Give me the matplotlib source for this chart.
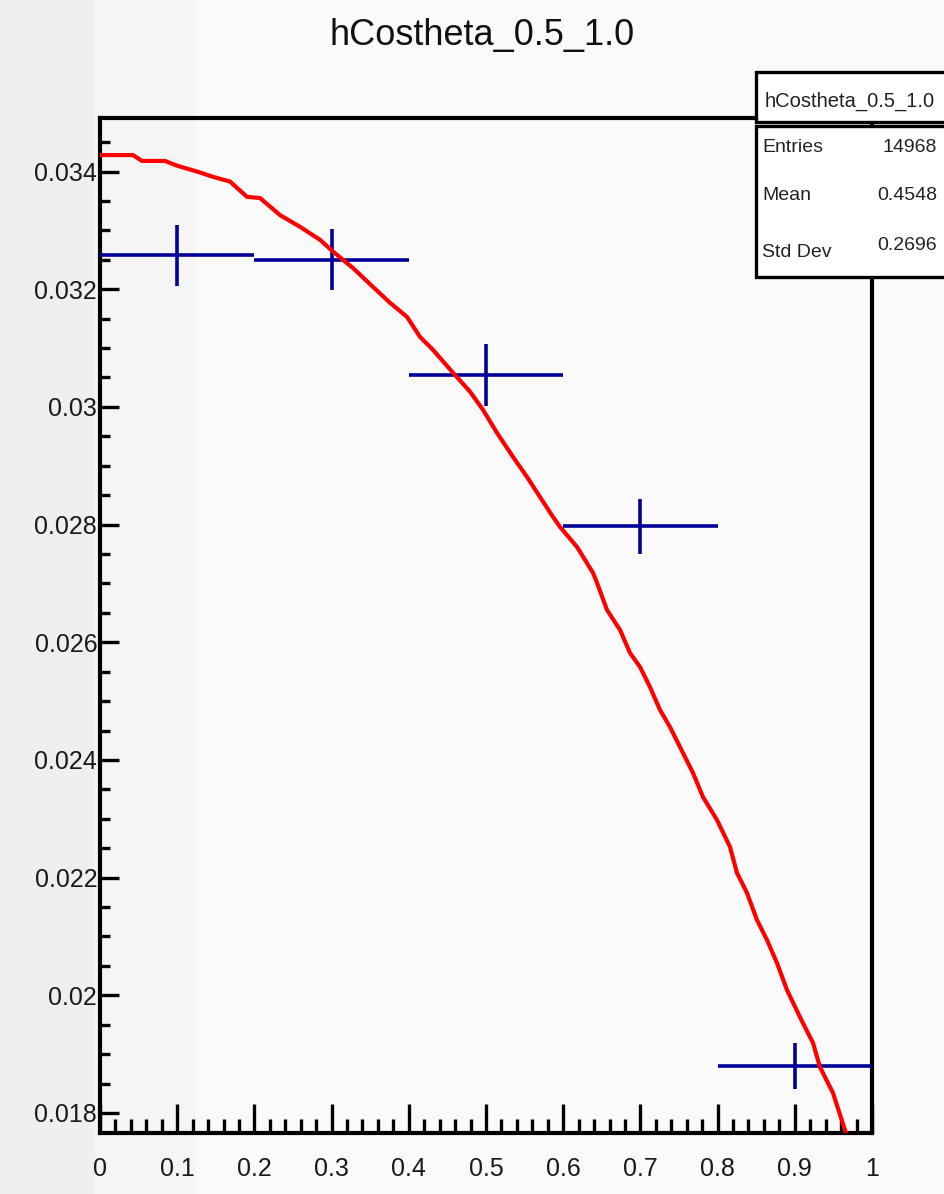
import matplotlib
matplotlib.use("Agg")
import matplotlib.pyplot as plt
from matplotlib.patches import Rectangle
from matplotlib.ticker import MultipleLocator, FixedFormatter, FixedLocator

# histogram (bins of width 0.2)
bin_centers = [0.1, 0.3, 0.5, 0.7, 0.9]
bin_halfwidth = [0.1, 0.1, 0.1, 0.1, 0.1]
bin_values = [0.03258, 0.03250, 0.03054, 0.02797, 0.01880]
bin_errors = [0.00052, 0.00052, 0.00053, 0.00047, 0.00039]

# fitted/overlaid curve
curve_x = [0.0, 0.0104, 0.0427, 0.0544, 0.0842, 0.0997, 0.1256, 0.1464, 0.1684,
           0.1904, 0.2073, 0.2332, 0.2591, 0.2850, 0.3018, 0.3277, 0.3536, 0.3756,
           0.3977, 0.4145, 0.4313, 0.4573, 0.4793, 0.4961, 0.5142, 0.5350, 0.5531,
           0.5699, 0.5868, 0.5959, 0.6179, 0.6386, 0.6438, 0.6567, 0.6736, 0.6865,
           0.6995, 0.7124, 0.7254, 0.7383, 0.7513, 0.7681, 0.7811, 0.7992, 0.8161,
           0.8251, 0.8381, 0.8510, 0.8640, 0.8769, 0.8899, 0.9067, 0.9236, 0.9326,
           0.9495, 0.9650, 0.9700]
curve_y = [0.03428, 0.03428, 0.03428, 0.03418, 0.03418, 0.03410, 0.03400, 0.03391, 0.03383,
           0.03357, 0.03355, 0.03326, 0.03306, 0.03284, 0.03264, 0.03236, 0.03204, 0.03177,
           0.03153, 0.03119, 0.03097, 0.03058, 0.03026, 0.02995, 0.02956, 0.02915, 0.02881,
           0.02847, 0.02813, 0.02796, 0.02762, 0.02718, 0.02701, 0.02655, 0.02621, 0.02582,
           0.02558, 0.02524, 0.02485, 0.02456, 0.02422, 0.02378, 0.02337, 0.02298, 0.02252,
           0.02208, 0.02174, 0.02128, 0.02094, 0.02055, 0.02009, 0.01963, 0.01919, 0.01878,
           0.01834, 0.01771, 0.01750]

title = "hCostheta_0.5_1.0"
stats_labels = ["Entries", "Mean", "Std Dev"]
stats_values = ["14968", "0.4548", "0.2696"]

x_ticks = [0, 0.1, 0.2, 0.3, 0.4, 0.5, 0.6, 0.7, 0.8, 0.9, 1.0]
x_ticklabels = ["0", "0.1", "0.2", "0.3", "0.4", "0.5", "0.6", "0.7", "0.8", "0.9", "1"]
y_ticks = [0.018, 0.020, 0.022, 0.024, 0.026, 0.028, 0.030, 0.032, 0.034]
y_ticklabels = ["0.018", "0.02", "0.022", "0.024", "0.026", "0.028", "0.03", "0.032", "0.034"]

W, H = 944, 1194
plt.rcParams["font.family"] = ["Liberation Sans", "DejaVu Sans"]

fig = plt.figure(figsize=(W / 100, H / 100), dpi=100, facecolor="#fafafa")


def fx(px):
    return px / W


def fy(py):
    return 1 - py / H


# faint grey strips on the left side of the screenshot
fig.patches.append(Rectangle((0, 0), fx(95), 1, transform=fig.transFigure,
                             facecolor="#efefef", edgecolor="none", zorder=-2))
fig.patches.append(Rectangle((fx(95), 0), fx(100), 1, transform=fig.transFigure,
                             facecolor="#f5f5f5", edgecolor="none", zorder=-2))

ax = fig.add_axes([fx(100), fy(1133), fx(772), (1133 - 118) / H])
ax.set_facecolor("none")
ax.set_xlim(0, 1)
ax.set_ylim(0.01766, 0.03491)

for s in ax.spines.values():
    s.set_linewidth(3.0)
    s.set_color("black")

ax.errorbar(bin_centers, bin_values, xerr=bin_halfwidth, yerr=bin_errors,
            fmt="none", ecolor="#000099", elinewidth=2.6, capsize=0, zorder=3)
ax.plot(curve_x, curve_y, color="#ff0000", lw=3.0, zorder=4)

ax.xaxis.set_major_locator(FixedLocator(x_ticks))
ax.xaxis.set_major_formatter(FixedFormatter(x_ticklabels))
ax.xaxis.set_minor_locator(MultipleLocator(0.02))
ax.yaxis.set_major_locator(FixedLocator(y_ticks))
ax.yaxis.set_major_formatter(FixedFormatter(y_ticklabels))
ax.yaxis.set_minor_locator(MultipleLocator(0.0005))

ax.tick_params(axis="x", which="major", direction="in", length=21, width=2.4,
               labelsize=18, pad=17, top=False)
ax.tick_params(axis="x", which="minor", direction="in", length=10, width=2.4, top=False)
ax.tick_params(axis="y", which="major", direction="in", length=14, width=2.4,
               labelsize=18, pad=2, right=False)
ax.tick_params(axis="y", which="minor", direction="in", length=7, width=2.4, right=False)
for lab in ax.get_xticklabels() + ax.get_yticklabels():
    lab.set_color("#1a1a1a")

fig.text(fx(482), fy(36), title, ha="center", va="center", fontsize=26, color="#111111")

# stats box
fig.patches.append(Rectangle((fx(756), fy(122)), fx(200), (122 - 72) / H,
                             transform=fig.transFigure, facecolor="white",
                             edgecolor="black", lw=2.4, zorder=5))
fig.patches.append(Rectangle((fx(756), fy(277)), fx(200), (277 - 126) / H,
                             transform=fig.transFigure, facecolor="white",
                             edgecolor="black", lw=2.4, zorder=5))
fig.text(fx(850), fy(101), title, ha="center", va="center", fontsize=14.5,
         color="#222222", zorder=6)
label_y = [148, 196, 253]
value_y = [148, 195, 246]
for lab, val, ly, vy in zip(stats_labels, stats_values, label_y, value_y):
    fig.text(fx(762), fy(ly), lab, ha="left", va="center", fontsize=14,
             color="#222222", zorder=6)
    fig.text(fx(937), fy(vy), val, ha="right", va="center", fontsize=14,
             color="#222222", zorder=6)

fig.savefig("out.png", dpi=100, facecolor=fig.get_facecolor())
